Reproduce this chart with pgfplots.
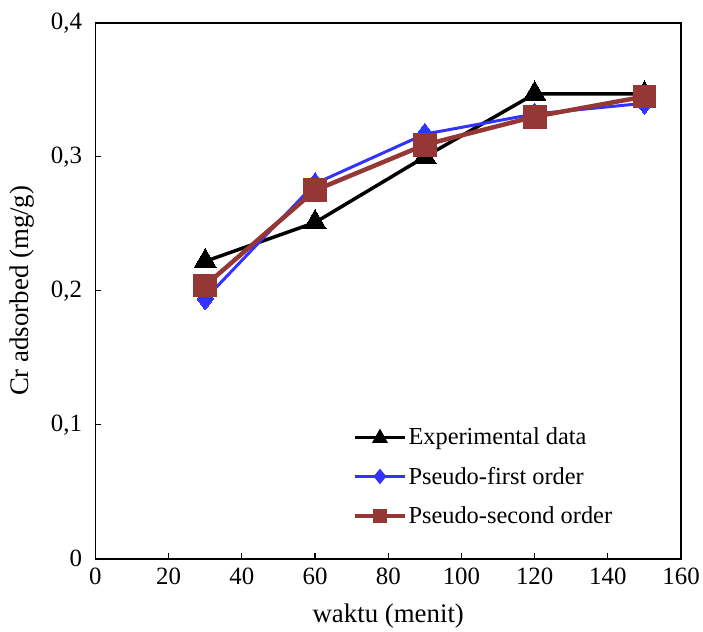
\documentclass[border=0pt]{standalone}
\usepackage{pgfplots}
\pgfplotsset{compat=1.18}
\usepackage{fontspec}
\setmainfont{Liberation Serif}
\definecolor{pfoblue}{RGB}{51,51,255}
\definecolor{psobrown}{RGB}{149,55,53}
\begin{document}
\begin{tikzpicture}
\begin{axis}[
  scale only axis,
  width=589pt, height=539pt,
  xmin=0, xmax=160, ymin=0, ymax=0.4,
  xtick={0,20,...,160},
  ytick={0,0.1,0.2,0.3,0.4},
  yticklabels={0,{0,1},{0,2},{0,3},{0,4}},
  tick align=inside,
  xtick pos=bottom, ytick pos=left,
  major tick length=6pt,
  axis line style={line width=1.5pt},
  tick style={line width=1.2pt, black},
  tick label style={font=\fontsize{25}{28}\selectfont},
  xticklabel style={yshift=-6pt},
  yticklabel style={xshift=-10pt},
  /pgf/number format/assume math mode=true,
  label style={font=\fontsize{27}{30}\selectfont},
  xlabel={waktu (menit)},
  ylabel={Cr adsorbed (mg/g)},
  xlabel style={yshift=-12pt},
  ylabel style={yshift=10pt},
  legend style={at={(0.435,0.252)}, anchor=north west, draw=none, fill=none,
    font=\fontsize{24.5}{27}\selectfont, row sep=17pt,
    /tikz/every even column/.append style={column sep=2pt}},
  legend cell align=left,
  clip=false,
]
\path (rel axis cs:-0.163,-0.1354) rectangle (rel axis cs:1.0306,1.0427);
\addplot[black, line width=3.5pt, mark=triangle*, mark size=13pt,
  mark options={solid, line width=0pt},
  legend image code/.code={
    \draw[black, line width=3pt] (0pt,0pt) -- (50pt,0pt);
    \fill[black] (25pt,0pt) ++(-5pt,-4pt) -- ++(10pt,0pt) -- ++(-5pt,9pt) -- cycle;}]
  coordinates {(30,0.222) (60,0.251) (90,0.300) (120,0.347) (150,0.347)};
\addlegendentry{Experimental data}
\addplot[pfoblue, line width=3pt, mark=diamond*, mark size=11pt,
  mark options={solid, line width=0pt},
  legend image code/.code={
    \draw[pfoblue, line width=3pt] (0pt,0pt) -- (50pt,0pt);
    \fill[pfoblue] (25pt,0pt) ++(0pt,5.5pt) -- ++(4.5pt,-5.5pt) -- ++(-4.5pt,-5.5pt) -- ++(-4.5pt,5.5pt) -- cycle;}]
  coordinates {(30,0.194) (60,0.280) (90,0.317) (120,0.332) (150,0.340)};
\addlegendentry{Pseudo-first order}
\addplot[psobrown, line width=4.5pt, mark=square*, mark size=11.5pt,
  mark options={solid, line width=0pt},
  legend image code/.code={
    \draw[psobrown, line width=3.5pt] (0pt,0pt) -- (50pt,0pt);
    \fill[psobrown] (25pt,0pt) ++(-5pt,-5pt) rectangle ++(10pt,10pt);}]
  coordinates {(30,0.204) (60,0.275) (90,0.309) (120,0.330) (150,0.345)};
\addlegendentry{Pseudo-second order}
\end{axis}
\end{tikzpicture}
\end{document}
